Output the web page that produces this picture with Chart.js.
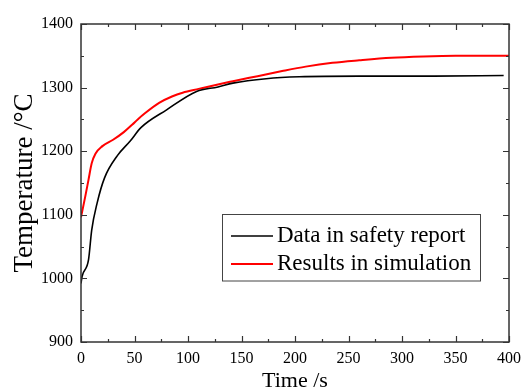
<!DOCTYPE html>
<html>
<head>
<meta charset="utf-8">
<script src="https://cdn.jsdelivr.net/npm/chart.js@4/dist/chart.umd.min.js"></script>
<style>
  html, body { margin: 0; padding: 0; background: #fff; }
  #wrap { width: 528px; height: 392px; }
</style>
</head>
<body>
<div id="wrap"><canvas id="c" width="528" height="392"></canvas></div>
<script>
// Outlet temperature over time: reported values vs. simulation
const reportTime = [0, 1, 7, 10, 15, 22, 34, 46, 56, 80, 108, 128, 142, 173, 204, 260, 330, 395];
const reportTemp = [992, 1003, 1029, 1076, 1118, 1158, 1193, 1216, 1237, 1265, 1294, 1301, 1307, 1314, 1317, 1318, 1318, 1319];

const simTime = [0, 4, 7, 10, 13.5, 20, 30, 40, 48, 53, 60, 73, 85, 95, 110, 128, 142, 165, 188, 210, 235, 260, 290, 320, 350, 400];
const simTemp = [1096, 1129, 1155, 1181, 1196, 1208, 1218, 1230, 1242, 1250, 1260, 1276, 1286, 1292, 1298, 1305, 1310, 1318, 1326, 1333, 1339, 1343, 1347, 1349, 1350, 1350];

const xTicks = [0, 50, 100, 150, 200, 250, 300, 350, 400];
const yTicks = [900, 1000, 1100, 1200, 1300, 1400];

const seriesNames = ['Data in safety report', 'Results in simulation'];

const SERIF = '"Liberation Serif", "Times New Roman", serif';
const AXIS = '#333';

function toPoints(xs, ys) { return xs.map((x, i) => ({ x: x, y: ys[i] })); }

// Frame on all four sides with inward major/minor ticks, plus the boxed legend
const framePlugin = {
  id: 'frame',
  afterDraw(chart) {
    const ctx = chart.ctx;
    const a = chart.chartArea;
    const xs = chart.scales.x, ys = chart.scales.y;
    ctx.save();
    ctx.strokeStyle = AXIS;
    ctx.lineWidth = 1.5;
    ctx.strokeRect(a.left, a.top, a.right - a.left, a.bottom - a.top);
    ctx.lineWidth = 1.2;
    const xStep = xTicks[1] - xTicks[0];
    for (let v = xTicks[0]; v <= xTicks[xTicks.length - 1] + 1e-9; v += xStep / 2) {
      const major = xTicks.includes(v);
      const len = major ? 6 : 3;
      const px = Math.round(xs.getPixelForValue(v)) + 0.5;
      ctx.beginPath();
      ctx.moveTo(px, a.bottom); ctx.lineTo(px, a.bottom - len);
      ctx.moveTo(px, a.top); ctx.lineTo(px, a.top + len);
      ctx.stroke();
    }
    const yStep = yTicks[1] - yTicks[0];
    for (let v = yTicks[0]; v <= yTicks[yTicks.length - 1] + 1e-9; v += yStep / 2) {
      const major = yTicks.includes(v);
      const len = major ? 6 : 3;
      const py = Math.round(ys.getPixelForValue(v)) + 0.5;
      ctx.beginPath();
      ctx.moveTo(a.left, py); ctx.lineTo(a.left + len, py);
      ctx.moveTo(a.right, py); ctx.lineTo(a.right - len, py);
      ctx.stroke();
    }

    // legend box
    const bx = 222.5, by = 214.5, bw = 258, bh = 66.5;
    ctx.fillStyle = '#fff';
    ctx.fillRect(bx, by, bw, bh);
    ctx.strokeStyle = '#444';
    ctx.lineWidth = 1;
    ctx.strokeRect(bx, by, bw, bh);
    ctx.font = '23px ' + SERIF;
    ctx.textBaseline = 'middle';
    ctx.textAlign = 'left';
    const rows = [236, 264];
    chart.data.datasets.forEach((ds, i) => {
      ctx.strokeStyle = ds.borderColor;
      ctx.lineWidth = ds.borderWidth;
      ctx.beginPath();
      ctx.moveTo(231, rows[i]); ctx.lineTo(273, rows[i]);
      ctx.stroke();
      ctx.fillStyle = '#000';
      ctx.fillText(ds.label, 277, rows[i]);
    });
    ctx.restore();
  }
};

new Chart(document.getElementById('c'), {
  type: 'line',
  data: {
    datasets: [
      {
        label: seriesNames[0],
        data: toPoints(reportTime, reportTemp),
        borderColor: '#000000',
        borderWidth: 1.6,
        pointRadius: 0,
        cubicInterpolationMode: 'monotone',
        fill: false
      },
      {
        label: seriesNames[1],
        data: toPoints(simTime, simTemp),
        borderColor: '#ff0000',
        borderWidth: 2,
        pointRadius: 0,
        cubicInterpolationMode: 'monotone',
        fill: false
      }
    ]
  },
  options: {
    responsive: false,
    animation: false,
    devicePixelRatio: 1,
    layout: { padding: { top: 24, right: 18, left: 0, bottom: 0 } },
    plugins: {
      legend: { display: false },
      tooltip: { enabled: false }
    },
    scales: {
      x: {
        type: 'linear',
        min: 0,
        max: 400,
        afterFit(scale) { scale.height = 50; },
        afterBuildTicks(scale) { scale.ticks = xTicks.map(v => ({ value: v })); },
        grid: { display: false, drawTicks: false },
        border: { display: false },
        ticks: {
          padding: 7,
          maxRotation: 0,
          color: '#000',
          font: { family: SERIF, size: 16 },
          callback: (v) => String(v)
        },
        title: {
          display: true,
          text: 'Time /s',
          color: '#000',
          font: { family: SERIF, size: 22, lineHeight: 1 },
          padding: { top: 0.5, bottom: 0 }
        }
      },
      y: {
        type: 'linear',
        min: 900,
        max: 1400,
        afterFit(scale) { scale.width = 81; },
        afterBuildTicks(scale) { scale.ticks = yTicks.map(v => ({ value: v })); },
        grid: { display: false, drawTicks: false },
        border: { display: false },
        ticks: {
          padding: 8,
          color: '#000',
          font: { family: SERIF, size: 16 },
          callback: (v) => String(v)
        },
        title: {
          display: true,
          text: 'Temperature /\u00B0C',
          color: '#000',
          font: { family: SERIF, size: 27, lineHeight: 1 },
          padding: { top: 11, bottom: 0 }
        }
      }
    }
  },
  plugins: [framePlugin]
});
</script>
</body>
</html>
